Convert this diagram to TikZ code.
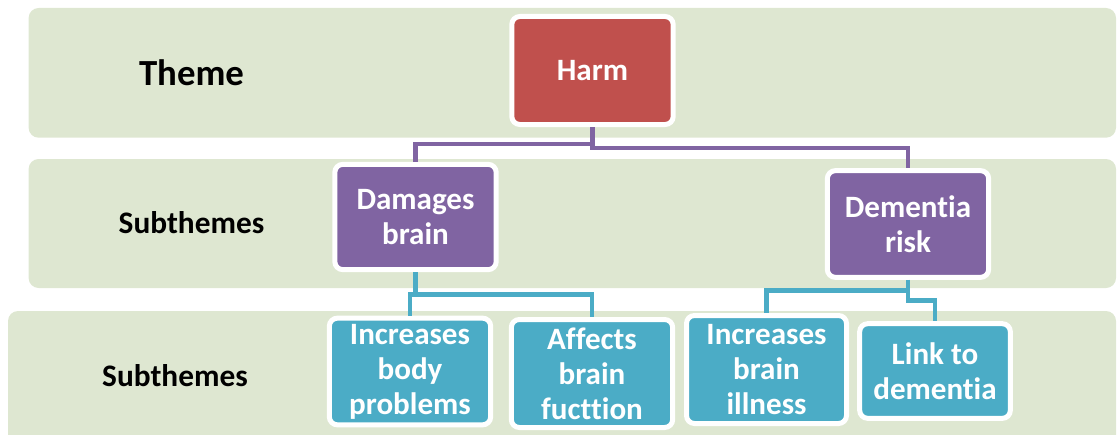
\documentclass[tikz,border=0pt]{standalone}
\usepackage{fontspec}
\setmainfont{Carlito}[Ligatures={NoCommon,NoRare,NoDiscretionary,NoContextual}]
\usepackage{xcolor,tikz}
\usetikzlibrary{positioning}
\definecolor{bandgreen}{RGB}{222,231,209}
\definecolor{harmred}{RGB}{192,80,77}
\definecolor{subpurple}{RGB}{128,100,162}
\definecolor{leafteal}{RGB}{75,172,198}

\begin{document}
\begin{tikzpicture}[x=.75pt,y=-.75pt,
 band/.style={fill=bandgreen,rounded corners=7.5pt},
 box/.style={draw=white,line width=3.75pt,rounded corners=6pt,text=white,align=center,
  font=\bfseries\fontsize{23.3}{26.3}\selectfont,minimum width=121pt,minimum height=80pt,inner sep=1pt},
 lbl/.style={font=\bfseries\fontsize{23.5}{28}\selectfont},
 pline/.style={draw=subpurple,line width=3.5pt},
 tline/.style={draw=leafteal,line width=3.5pt}]
 \useasboundingbox (0,0) rectangle (1117,435);
 \fill[band] (28.6,8) rectangle (1116,137.7);
 \fill[band] (28.6,159) rectangle (1116,288);
 \fill[band] (8,311) rectangle (1116,445);
 \node[lbl,font=\bfseries\fontsize{27.6}{32}\selectfont] (theme) at (191.5,72.5) {Theme};
 \node[lbl] (sub1) at (191.5,223) {Subthemes};
 \node[lbl] (sub2) at (175,376) {Subthemes};
 \node[box,fill=harmred,minimum height=81pt] (harm) at (592.5,70.5) {Harm};
 \node[box,fill=subpurple,minimum height=79pt] (damages) at (415.5,217) {Damages\\brain};
 \node[box,fill=subpurple] (dementia) at (908,224) {Dementia\\risk};
 \node[box,fill=leafteal] (incbody) at (410,371.5) {Increases\\body\\problems};
 \node[box,fill=leafteal,minimum height=81pt] (affects) at (592,373.5) {Affects\\brain\\fucttion};
 \node[box,fill=leafteal,minimum width=120pt,minimum height=81pt] (incbrain) at (766.5,369.5) {Increases\\brain\\illness};
 \node[box,fill=leafteal,minimum width=113pt,minimum height=71pt] (link) at (935,371) {Link to\\dementia};
 \draw[pline] (harm.south) -- ++(0,17) -| (damages.north);
 \draw[pline] (harm.south) -- ++(0,21) -| (dementia.north);
 \draw[tline] (damages.south) -- ++(0,22.5) -| (incbody.north);
 \draw[tline] (damages.south) -- ++(0,22.5) -| (affects.north);
 \draw[tline] (dementia.south) -- ++(0,10.5) -| (incbrain.north);
 \draw[tline] (dementia.south) -- ++(0,20.5) -| (link.north);
\end{tikzpicture}
\end{document}
